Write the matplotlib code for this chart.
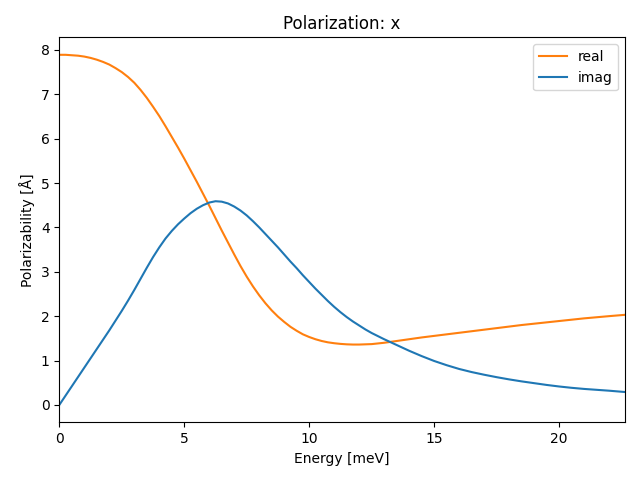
import numpy as np
import matplotlib.pyplot as plt

# energies in meV
energy = [0.0, 0.25, 0.5, 0.75, 1.0, 1.25, 1.5, 1.75, 2.0,
          2.25, 2.5, 2.75, 3.0, 3.25, 3.5, 3.75, 4.0,
          4.25, 4.5, 4.75, 5.0, 5.25, 5.5, 5.75, 6.0,
          6.25, 6.5, 6.75, 7.0, 7.25, 7.5, 7.75, 8.0,
          8.25, 8.5, 8.75, 9.0, 9.25, 9.5, 9.75, 10.0,
          10.25, 10.5, 10.75, 11.0, 11.25, 11.5, 11.75, 12.0,
          12.25, 12.5, 12.75, 13.0,
          13.5, 14.0, 14.5, 15.0, 15.5, 16.0, 16.5, 17.0, 17.5,
          18.0, 18.5, 19.0, 19.5, 20.0, 20.5, 21.0, 21.5, 22.0, 22.64]

real = [7.89, 7.89, 7.88, 7.87, 7.85, 7.82, 7.78, 7.73, 7.67,
        7.59, 7.50, 7.39, 7.26, 7.10, 6.92, 6.72, 6.51,
        6.28, 6.04, 5.80, 5.55, 5.29, 5.03, 4.76, 4.49,
        4.21, 3.93, 3.66, 3.39, 3.13, 2.89, 2.67, 2.47,
        2.29, 2.13, 1.99, 1.87, 1.76, 1.67, 1.59, 1.53,
        1.48, 1.44, 1.41, 1.39, 1.375, 1.365, 1.36, 1.36,
        1.365, 1.37, 1.385, 1.40,
        1.44, 1.48, 1.52, 1.555, 1.59, 1.625, 1.66, 1.695, 1.73,
        1.765, 1.80, 1.83, 1.86, 1.89, 1.92, 1.95, 1.975, 2.00, 2.03]

imag = [0.00, 0.21, 0.42, 0.63, 0.84, 1.05, 1.26, 1.47, 1.68,
        1.90, 2.12, 2.35, 2.59, 2.84, 3.09, 3.33, 3.55,
        3.75, 3.92, 4.07, 4.20, 4.32, 4.42, 4.50, 4.56,
        4.59, 4.58, 4.54, 4.47, 4.38, 4.27, 4.14, 4.00,
        3.85, 3.70, 3.55, 3.39, 3.23, 3.08, 2.92, 2.77,
        2.62, 2.48, 2.34, 2.21, 2.09, 1.98, 1.88, 1.79,
        1.70, 1.62, 1.55, 1.48,
        1.35, 1.22, 1.10, 0.99, 0.895, 0.81, 0.74, 0.68, 0.625,
        0.575, 0.53, 0.49, 0.45, 0.415, 0.385, 0.36, 0.34, 0.32, 0.29]

fig, ax = plt.subplots(figsize=(6.4, 4.8), dpi=100)
plt.subplots_adjust(left=0.0927, right=0.9766, bottom=0.120, top=0.9223)
ax.plot(energy, real, color='C1', label='real')
ax.plot(energy, imag, color='C0', label='imag')
ax.set_xlim(0, max(energy))
ax.set_title('Polarization: x')
ax.set_xlabel('Energy [meV]')
ax.set_ylabel('Polarizability [Å]')
ax.legend(loc='upper right')
fig.savefig('out.png')
